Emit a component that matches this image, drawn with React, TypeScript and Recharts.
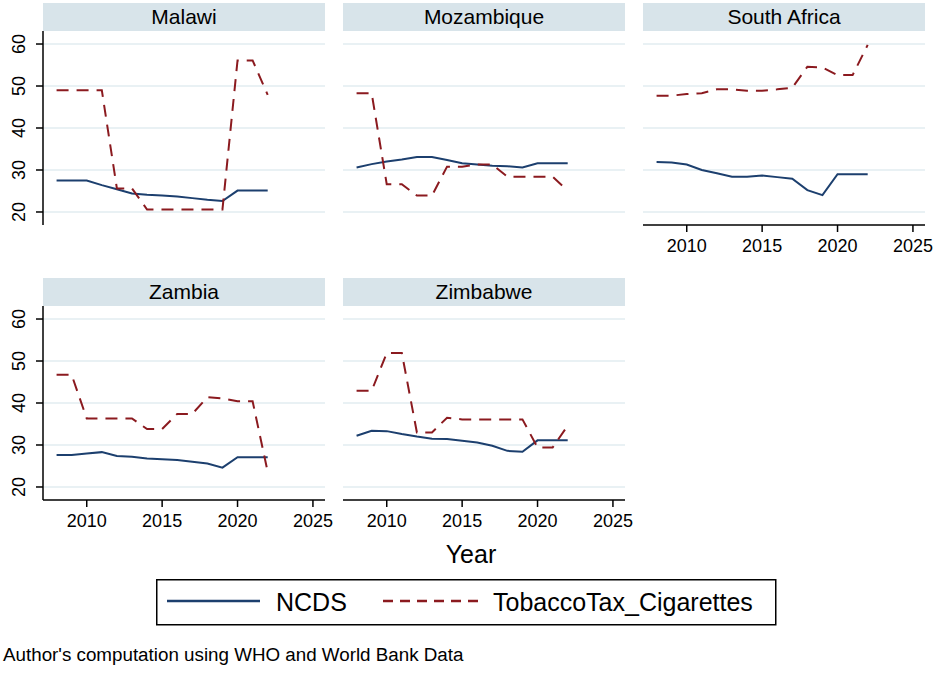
import { LineChart, Line, XAxis, YAxis, CartesianGrid } from "recharts";

const years = [2008, 2009, 2010, 2011, 2012, 2013, 2014, 2015, 2016, 2017, 2018, 2019, 2020, 2021, 2022];
const xTicks = [2010, 2015, 2020, 2025];
const yTicks = [20, 30, 40, 50, 60];

const malawiNcds = [27.5, 27.5, 27.5, 26.4, 25.4, 24.4, 24.1, 23.9, 23.7, 23.3, 22.9, 22.6, 25.1, 25.1, 25.1];
const malawiTax = [49.0, 49.0, 49.0, 49.0, 25.6, 25.6, 20.6, 20.6, 20.6, 20.6, 20.6, 20.6, 56.1, 56.1, 47.9];
const mozambiqueNcds = [30.6, 31.4, 32.0, 32.5, 33.1, 33.1, 32.4, 31.6, 31.3, 31.0, 30.9, 30.6, 31.6, 31.6, 31.6];
const mozambiqueTax = [48.3, 48.3, 26.6, 26.6, 23.9, 23.9, 30.8, 30.8, 31.3, 31.3, 28.4, 28.4, 28.4, 28.4, 25.1];
const southAfricaNcds = [31.9, 31.8, 31.3, 30.0, 29.2, 28.4, 28.4, 28.7, 28.3, 27.9, 25.2, 24.0, 29.0, 29.0, 29.0];
const southAfricaTax = [47.7, 47.7, 48.1, 48.3, 49.2, 49.2, 48.9, 48.9, 49.2, 49.6, 54.6, 54.4, 52.6, 52.6, 59.8];
const zambiaNcds = [27.6, 27.6, 28.0, 28.3, 27.4, 27.2, 26.8, 26.6, 26.4, 26.0, 25.6, 24.6, 27.1, 27.1, 27.1];
const zambiaTax = [46.7, 46.7, 36.3, 36.3, 36.3, 36.3, 33.8, 33.8, 37.4, 37.4, 41.4, 41.1, 40.4, 40.4, 23.6];
const zimbabweNcds = [32.2, 33.4, 33.3, 32.6, 32.0, 31.5, 31.4, 31.0, 30.6, 29.8, 28.6, 28.4, 31.1, 31.1, 31.1];
const zimbabweTax = [42.9, 42.9, 51.9, 51.9, 33.0, 33.0, 36.5, 36.1, 36.1, 36.1, 36.1, 36.1, 29.4, 29.4, 34.6];

const NAVY = "#1c3f6e";
const MAROON = "#8b1a1f";
const FONT = "'Liberation Sans', Arial, sans-serif";

const build = (ncds: number[], tax: number[]) =>
  years.map((year, i) => ({ year, NCDS: ncds[i], TobaccoTax_Cigarettes: tax[i] }));

const panels = [
  { name: "Malawi", col: 0, row: 0, data: build(malawiNcds, malawiTax), showY: true, showX: false },
  { name: "Mozambique", col: 1, row: 0, data: build(mozambiqueNcds, mozambiqueTax), showY: false, showX: false },
  { name: "South Africa", col: 2, row: 0, data: build(southAfricaNcds, southAfricaTax), showY: false, showX: true },
  { name: "Zambia", col: 0, row: 1, data: build(zambiaNcds, zambiaTax), showY: true, showX: true },
  { name: "Zimbabwe", col: 1, row: 1, data: build(zimbabweNcds, zimbabweTax), showY: false, showX: true },
];

const colLeft = [43, 343, 643];
const rowTop = [0, 275];
const PW = 282;
const PH = 194;
const YW = 43;
const RPAD = 24;

const YTick = (props: any) => {
  const { x, y, payload } = props;
  return (
    <text
      x={x}
      y={y}
      transform={`rotate(-90, ${x}, ${y})`}
      textAnchor="middle"
      fontSize={18}
      fontFamily={FONT}
      fill="#000"
    >
      {payload.value}
    </text>
  );
};

const Panel = ({ p }: { p: (typeof panels)[number] }) => {
  const left = colLeft[p.col];
  const top = rowTop[p.row];
  return (
    <>
      <div
        style={{
          position: "absolute",
          left,
          top: top + 3,
          width: PW,
          height: 28,
          background: "#d8e4ea",
          color: "#000",
          fontFamily: FONT,
          fontSize: 21,
          lineHeight: "28px",
          textAlign: "center",
        }}
      >
        {p.name}
      </div>
      <div style={{ position: "absolute", left: left - (p.showY ? YW : 0), top: top + 31 }}>
        <LineChart
          width={PW + (p.showY ? YW : 0) + RPAD}
          height={PH + (p.showX ? 45 : 0)}
          data={p.data}
          margin={{ top: 0, right: RPAD, bottom: 0, left: 0 }}
        >
          <CartesianGrid vertical={false} horizontalValues={yTicks} stroke="#e2ecf0" strokeWidth={1.5} />
          <XAxis
            dataKey="year"
            type="number"
            domain={[2007.1, 2025.8]}
            allowDataOverflow
            ticks={xTicks}
            hide={!p.showX}
            height={45}
            tickSize={7}
            tickMargin={7}
            axisLine={{ stroke: "#000", strokeWidth: 1.5 }}
            tickLine={{ stroke: "#000", strokeWidth: 1.5 }}
            tick={{ fill: "#000", fontSize: 18, fontFamily: FONT }}
          />
          <YAxis
            type="number"
            domain={[16.9, 63.1]}
            allowDataOverflow
            ticks={yTicks}
            hide={!p.showY}
            width={YW}
            tickSize={7}
            tickMargin={11}
            axisLine={{ stroke: "#000", strokeWidth: 1.5 }}
            tickLine={{ stroke: "#000", strokeWidth: 1.5 }}
            tick={<YTick />}
          />
          <Line
            dataKey="NCDS"
            type="linear"
            stroke={NAVY}
            strokeWidth={2}
            dot={false}
            isAnimationActive={false}
          />
          <Line
            dataKey="TobaccoTax_Cigarettes"
            type="linear"
            stroke={MAROON}
            strokeWidth={2}
            strokeDasharray="12 8"
            dot={false}
            isAnimationActive={false}
          />
        </LineChart>
      </div>
    </>
  );
};

export default function App() {
  return (
    <div style={{ position: "absolute", left: 0, top: 0, width: 935, height: 674, background: "#fff", overflow: "hidden" }}>
      {panels.map((p) => (
        <Panel key={p.name} p={p} />
      ))}
      <svg width={935} height={674} style={{ position: "absolute", left: 0, top: 0, pointerEvents: "none" }}>
        <text x={471} y={563} textAnchor="middle" fontSize={25} fontFamily={FONT} fill="#000">
          Year
        </text>
        <rect x={156.75} y={579.75} width={619} height={45} fill="none" stroke="#000" strokeWidth={1.5} />
        <line x1={167} y1={601} x2={260} y2={601} stroke={NAVY} strokeWidth={2.5} />
        <text x={276} y={611} fontSize={25} fontFamily={FONT} fill="#000">
          NCDS
        </text>
        <line x1={383} y1={601} x2={480} y2={601} stroke={MAROON} strokeWidth={2.5} strokeDasharray="10 7" />
        <text x={493} y={611} fontSize={25} fontFamily={FONT} fill="#000">
          TobaccoTax_Cigarettes
        </text>
        <text x={3} y={661} fontSize={18.8} fontFamily={FONT} fill="#000">
          Author's computation using WHO and World Bank Data
        </text>
      </svg>
    </div>
  );
}
